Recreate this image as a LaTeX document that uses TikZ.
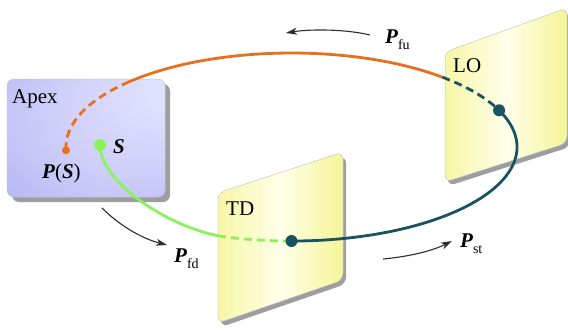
\documentclass[tikz,border=0pt]{standalone}
\usepackage{fontspec}
\setmainfont{Liberation Serif}
\usetikzlibrary{arrows.meta,shadows}

\definecolor{orangecurve}{RGB}{232,112,28}
\definecolor{tealcurve}{RGB}{26,82,98}
\definecolor{greencurve}{RGB}{140,242,92}
\definecolor{apexblue}{RGB}{168,168,244}
\definecolor{panelyellow}{RGB}{245,245,150}
\definecolor{arrowgray}{RGB}{45,45,45}

\pgfdeclareradialshading{apexshade}{\pgfpoint{30bp}{22bp}}{%
  color(0bp)=(white!88!blue); color(6bp)=(white!88!blue); color(30bp)=(apexblue!60!white); color(55bp)=(apexblue)}

\newcommand{\boldP}{{\bfseries\itshape P}}
\newcommand{\boldS}{{\bfseries\itshape S}}
\newcommand{\subtext}[1]{\raisebox{-6pt}{\fontsize{14}{14}\selectfont #1}}

\begin{document}
\begin{tikzpicture}[x=1pt,y=-1pt,
  lbl/.style={anchor=base west,inner sep=0pt,font=\rmfamily\fontsize{21}{24}\selectfont},
  panel/.style={draw=gray!45,line width=0.5pt,rounded corners=7pt,
    left color=panelyellow!85,right color=panelyellow,middle color=white!92!yellow,
    drop shadow={shadow xshift=3pt,shadow yshift=-4pt,fill=black!38,opacity=1}},
  curve/.style={line width=2.8pt},
  dashline/.style={dash pattern=on 8pt off 5pt},
  dot/.style={circle,inner sep=0pt,minimum size=#1},
  flow/.style={arrowgray,line width=1.1pt,-{Stealth[length=11pt,width=7pt,inset=3pt]}}]
  \useasboundingbox (0,0) rectangle (568,332);

  % apex box and the two planes
  \node[draw=gray!45,line width=0.5pt,rounded corners=7pt,minimum width=158pt,minimum height=118pt,
    shade,shading=apexshade,
    drop shadow={shadow xshift=5pt,shadow yshift=-5pt,fill=black!38,opacity=1}]
    (apex) at (86,138) {};
  \path[panel] (218,193) -- (343,152) -- (343,280) -- (218,323) -- cycle;
  \path[panel] (445,52) -- (567,8) -- (567,143) -- (445,182) -- cycle;

  \coordinate (psdot) at (66.1,150.3);
  \coordinate (sdot) at (100,145);
  \coordinate (lodot) at (499.1,110.3);
  \coordinate (tddot) at (291.5,241);
  \coordinate (gedge) at (218,235.9);

  % the loop
  \draw[curve,orangecurve,dashline] (psdot) arc[start angle=178,end angle=223,x radius=225.5,y radius=94] coordinate (oa);
  \draw[curve,orangecurve] (oa) arc[start angle=223,end angle=312,x radius=225.5,y radius=94] coordinate (ob);
  \draw[curve,tealcurve,dashline] (ob) arc[start angle=312,end angle=337,x radius=225.5,y radius=94];
  \draw[curve,tealcurve] (lodot) arc[start angle=337,end angle=450,x radius=225.5,y radius=94];
  \draw[curve,greencurve] (sdot) .. controls (100,180) and (162,224) .. (gedge);
  \draw[curve,greencurve,dashline] (gedge) arc[start angle=109,end angle=90,x radius=225.5,y radius=94];

  \node[dot=8pt,fill=orangecurve] (ps) at (psdot) {};
  \node[dot=12pt,fill=greencurve] (s) at (sdot) {};
  \node[dot=12pt,fill=tealcurve] (lo) at (lodot) {};
  \node[dot=12pt,fill=tealcurve] (td) at (tddot) {};

  % direction arrows
  \coordinate (fua) at (370,35);
  \coordinate (fub) at (286,33);
  \coordinate (fda) at (102,208);
  \coordinate (fdb) at (167,245);
  \coordinate (sta) at (383,259);
  \coordinate (stb) at (452,241);
  \draw[flow] (fua) .. controls (345,29) and (310,29) .. (fub);
  \draw[flow] (fda) .. controls (118,224) and (140,238) .. (fdb);
  \draw[flow] (sta) .. controls (405,257) and (430,252) .. (stb);

  % labels
  \node[lbl] (apexlbl) at (12,103) {Apex};
  \node[lbl] (pslbl) at (42,178) {\boldP(\boldS)};
  \node[lbl] (slbl) at (113,153) {\boldS};
  \node[lbl] (tdlbl) at (226,215) {TD};
  \node[lbl] (lolbl) at (453,72) {LO};
  \node[lbl] (fulbl) at (385,43) {\boldP\subtext{fu}};
  \node[lbl] (fdlbl) at (174,262) {\boldP\subtext{fd}};
  \node[lbl] (stlbl) at (460,247) {\boldP\subtext{st}};
\end{tikzpicture}
\end{document}
